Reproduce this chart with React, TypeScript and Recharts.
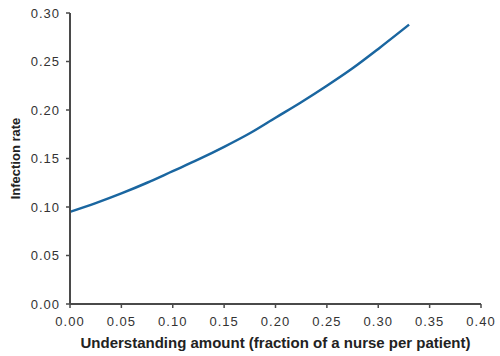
import { LineChart, Line, XAxis, YAxis } from "recharts";

// staffing amount (fraction of a nurse per patient)
const staffing = [0, 0.025, 0.05, 0.075, 0.1, 0.125, 0.15, 0.175, 0.2, 0.225, 0.25, 0.275, 0.3, 0.33];
// infection rate
const infectionRate = [0.095, 0.104, 0.114, 0.125, 0.137, 0.149, 0.162, 0.176, 0.192, 0.208, 0.225, 0.243, 0.263, 0.288];

const xTicks = [0, 0.05, 0.1, 0.15, 0.2, 0.25, 0.3, 0.35, 0.4];
const yTicks = [0, 0.05, 0.1, 0.15, 0.2, 0.25, 0.3];

const data = staffing.map((x, i) => ({ x, rate: infectionRate[i] }));

const font = "Arial, 'Liberation Sans', sans-serif";

const tickStyle = {
  fill: "#333",
  fontSize: 13,
  fontFamily: font,
  letterSpacing: 1,
};

export default function App() {
  return (
    <div style={{ position: "fixed", left: 0, top: 0, width: 500, height: 356, background: "#fff" }}>
      <LineChart width={500} height={356} data={data} margin={{ top: 13, right: 19, bottom: 0, left: 0 }}>
        <XAxis
          dataKey="x"
          type="number"
          domain={[0, 0.4]}
          ticks={xTicks}
          tickFormatter={(v: number) => v.toFixed(2)}
          height={52}
          tick={tickStyle}
          tickSize={4}
          tickMargin={9}
          axisLine={{ stroke: "#4a4a4a", strokeWidth: 2 }}
          tickLine={{ stroke: "#4a4a4a", strokeWidth: 1.5 }}
          label={{
            value: "Understanding amount (fraction of a nurse per patient)",
            position: "center",
            dy: 13,
            style: { fill: "#222", fontSize: 15, fontWeight: 700, fontFamily: font },
          }}
        />
        <YAxis
          type="number"
          domain={[0, 0.3]}
          ticks={yTicks}
          tickFormatter={(v: number) => v.toFixed(2)}
          width={70}
          tick={tickStyle}
          tickSize={4}
          tickMargin={6}
          axisLine={{ stroke: "#4a4a4a", strokeWidth: 2 }}
          tickLine={{ stroke: "#4a4a4a", strokeWidth: 1.5 }}
          label={{
            value: "Infection rate",
            angle: -90,
            position: "center",
            dx: -20,
            style: { fill: "#222", fontSize: 13, fontWeight: 700, fontFamily: font },
          }}
        />
        <Line
          type="monotone"
          dataKey="rate"
          stroke="#1a66a0"
          strokeWidth={2.5}
          dot={false}
          isAnimationActive={false}
        />
      </LineChart>
    </div>
  );
}
